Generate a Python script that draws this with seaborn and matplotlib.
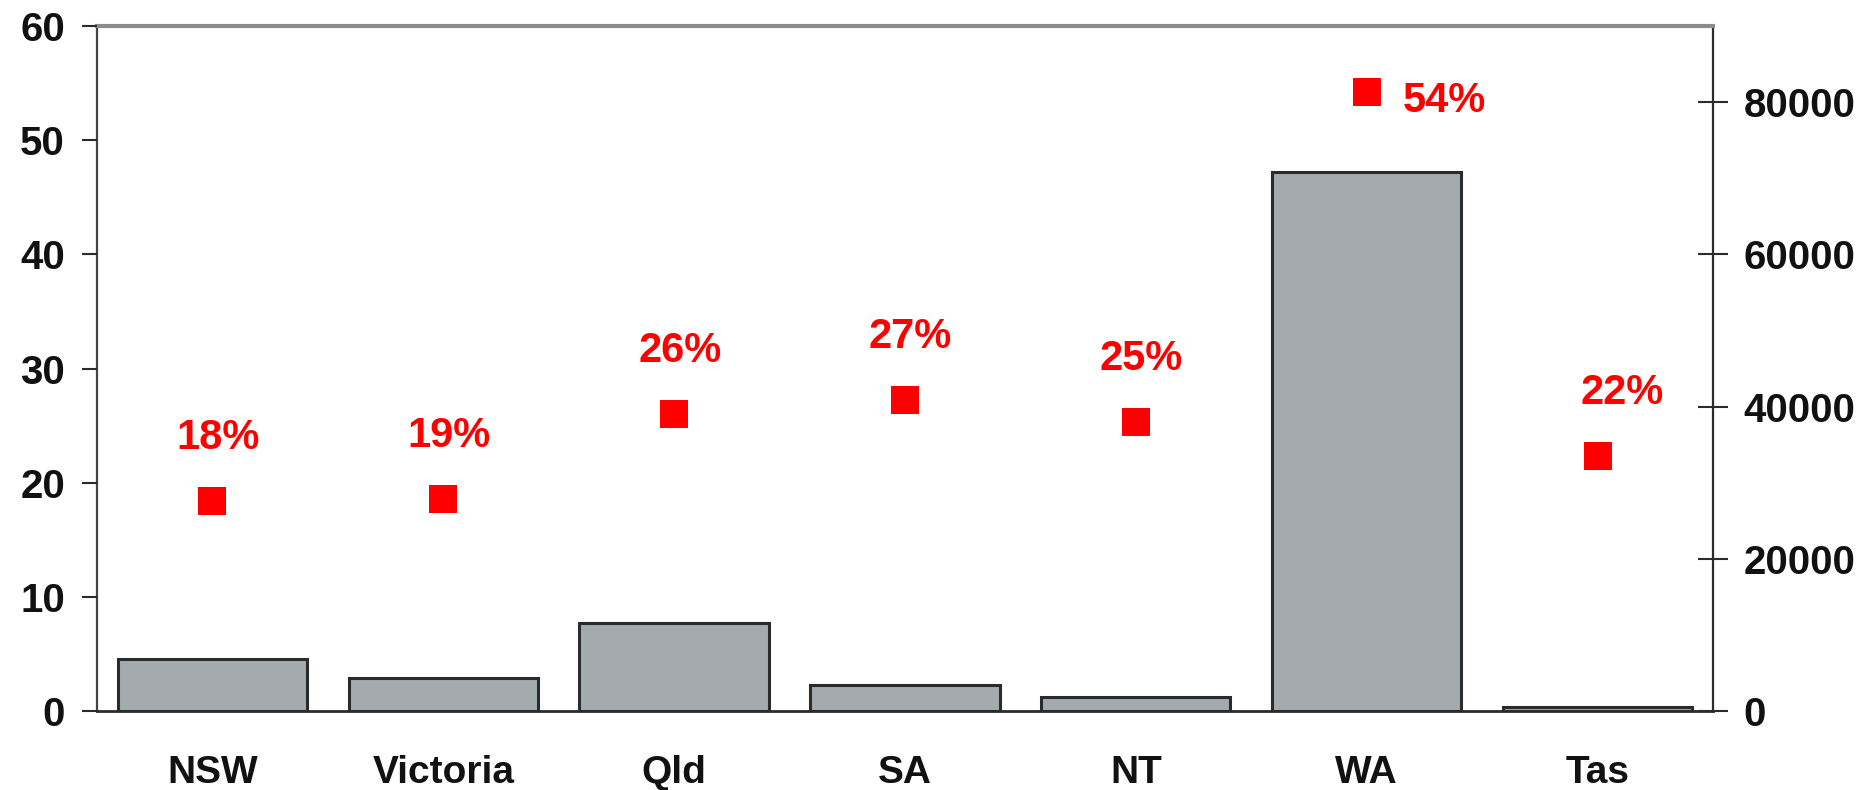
import numpy as np
import pandas as pd
import matplotlib
matplotlib.use("Agg")
import matplotlib.pyplot as plt
import seaborn as sns

# Data
states = ["NSW", "Victoria", "Qld", "SA", "NT", "WA", "Tas"]
bar_values = [6800, 4400, 11600, 3400, 1800, 70800, 500]        # right axis
share_pct = [18.4, 18.6, 26.0, 27.2, 25.3, 54.2, 22.3]          # left axis, %
left_ticks = [0, 10, 20, 30, 40, 50, 60]
right_ticks = [0, 20000, 40000, 60000, 80000]

sns.set_theme(style="white")
plt.rcParams["font.family"] = ["Liberation Sans", "DejaVu Sans"]
plt.rcParams["font.weight"] = "bold"

BAR_COLOR = "#A4ABAE"
RED = "#FF0000"
DARK = "#2b2b2b"
TEXT = "#111111"

fig = plt.figure(figsize=(18.68, 7.9), dpi=100)
ax = fig.add_axes([0.0519, 0.1, 0.8651, 0.867])

df = pd.DataFrame({"state": states, "value": bar_values})
sns.barplot(data=df, x="state", y="value", ax=ax, color=BAR_COLOR,
            saturation=1, width=0.82, edgecolor=DARK, linewidth=2.2)
ax.set_xlim(-0.5, len(states) - 0.5)
ax.set_ylim(0, 90000)
ax.set_xlabel("")
ax.set_ylabel("")

# Percent markers on the twin axis
ax2 = ax.twinx()
ax2.set_zorder(ax.get_zorder() + 1)
pos = np.arange(len(states))
sns.scatterplot(x=pos, y=share_pct, ax=ax2, marker="s", s=400,
                color=RED, linewidth=0, legend=False)
ax2.set_ylim(0, 60)
ax2.set_xlim(-0.5, len(states) - 0.5)

# Value labels
label_font = dict(family="Liberation Sans", weight="bold", size=30, color=RED)
for i, v in enumerate(share_pct):
    txt = f"{v:.0f}%"
    if states[i] == "WA":
        ax2.annotate(txt, (i, v), xytext=(26, -6), textcoords="offset points",
                     ha="left", va="center", **label_font)
    else:
        dx = 18 if states[i] == "Tas" else 4
        ax2.annotate(txt, (i, v), xytext=(dx, 31), textcoords="offset points",
                     ha="center", va="bottom", **label_font)

# Right axis (bar values)
ax.yaxis.tick_right()
ax.set_yticks(right_ticks)
ax.set_yticklabels([str(t) for t in right_ticks])
ax.tick_params(axis="y", direction="inout", length=22, width=1.5,
               colors=DARK, pad=11, labelsize=29, labelcolor=TEXT)

# Left axis (percent)
ax2.yaxis.tick_left()
ax2.set_yticks(left_ticks)
ax2.set_yticklabels([str(t) for t in left_ticks])
ax2.tick_params(axis="y", direction="out", length=11, width=1.5,
                colors=DARK, pad=12, labelsize=29, labelcolor=TEXT)

# Category axis: labels at centres, ticks at boundaries
ax.set_xticks(pos)
ax.set_xticklabels(states)
ax.tick_params(axis="x", length=0, pad=32, labelsize=28, labelcolor=TEXT)
ax.set_xticks(np.arange(-0.5, len(states)), minor=True)
ax.tick_params(axis="x", which="minor", direction="out", length=13,
               width=1.5, color=DARK)

for lbl in ax.get_xticklabels() + ax.get_yticklabels() + ax2.get_yticklabels():
    lbl.set_fontweight("bold")

# Frame
for side in ["top", "right", "bottom", "left"]:
    ax2.spines[side].set_visible(False)
ax.spines["top"].set_color("#8c8c8c")
ax.spines["top"].set_linewidth(3)
ax.spines["left"].set_color("#444444")
ax.spines["left"].set_linewidth(1.6)
ax.spines["right"].set_color(DARK)
ax.spines["right"].set_linewidth(1.6)
ax.spines["bottom"].set_color(DARK)
ax.spines["bottom"].set_linewidth(2)

fig.savefig("out.png", dpi=100)
